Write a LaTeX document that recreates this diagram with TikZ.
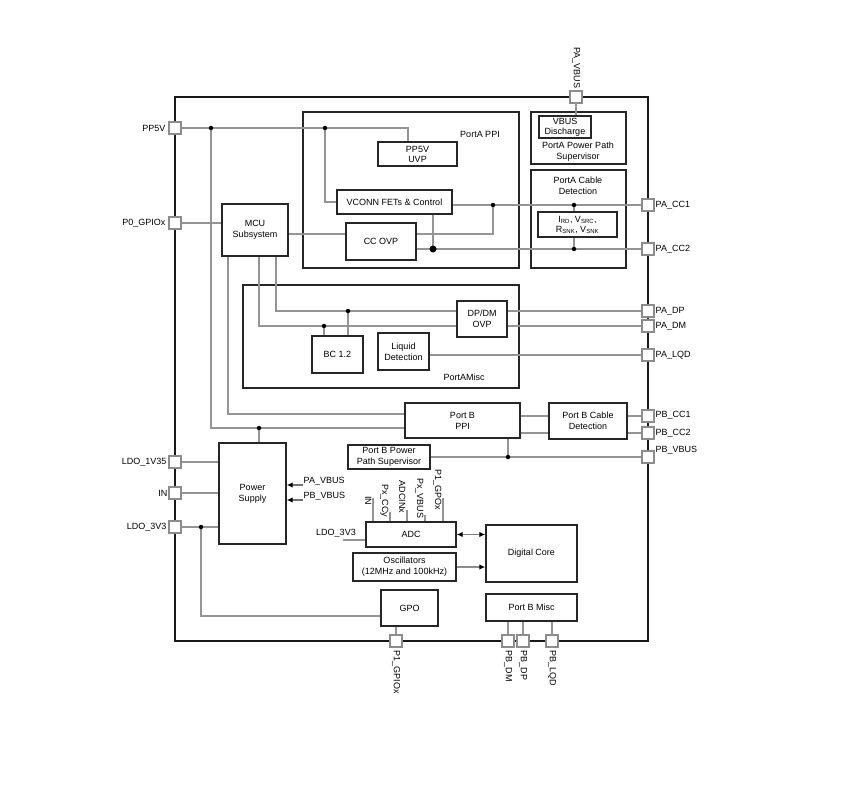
\documentclass[tikz,border=0pt]{standalone}
\usepackage{fontspec}
\setmainfont{Liberation Sans}
\usetikzlibrary{arrows.meta}
\begin{document}
\begin{tikzpicture}[x=1pt,y=-1pt,
  blk/.style={draw=black!85, line width=1.4pt, align=center, inner sep=1pt, font=\fontsize{9}{11}\selectfont},
  txt/.style={align=center, inner sep=0.5pt, font=\fontsize{9}{11}\selectfont},
  wire/.style={draw=black!42, line width=1.3pt},
  pin/.style={draw=black!45, fill=white, line width=1.1pt, minimum size=12pt, inner sep=0pt},
  dotn/.style={circle, fill=black, inner sep=0pt, minimum size=4.5pt},
  bigdot/.style={circle, fill=black, inner sep=0pt, minimum size=7pt},
  arr/.style={draw=black!55, line width=1.2pt, -{Latex[length=6pt,width=5.5pt,fill=black,color=black]}},
  darr/.style={draw=black!50, line width=1.2pt, {Latex[length=6pt,width=5.5pt,fill=black,color=black]}-{Latex[length=6pt,width=5.5pt,fill=black,color=black]}}
]
\useasboundingbox (0,0) rectangle (868,789);
% chip outline
\node[draw=black!90, line width=1.2pt, minimum width=473pt, minimum height=544pt, inner sep=0pt] (chip) at (411.5,369) {};

% blocks
\node[blk, minimum width=216pt, minimum height=156pt] (PAPPI) at (411,190) {};
\node[txt] (tPAPPI) at (480,134) {PortA PPI};
\node[blk, minimum width=79pt, minimum height=24pt, font=\fontsize{9}{10}\selectfont] (PPUVP) at (417.5,154) {PP5V\\UVP};
\node[blk, minimum width=115pt, minimum height=24pt] (VCONN) at (394.5,202) {VCONN FETs \& Control};
\node[blk, minimum width=70pt, minimum height=37pt] (CCOVP) at (381,241.5) {CC OVP};
\node[blk, minimum width=66pt, minimum height=52pt] (MCU) at (255,230) {MCU\\Subsystem};

\node[blk, minimum width=95pt, minimum height=52pt] (PAPPS) at (578.5,138) {};
\node[blk, minimum width=52pt, minimum height=22pt, font=\fontsize{9}{10}\selectfont] (VBUSD) at (565,127) {VBUS\\Discharge};
\node[txt] (tPAPPS) at (578,152) {PortA Power Path\\Supervisor};
\node[blk, minimum width=95pt, minimum height=98pt] (PACD) at (578.5,219) {};
\node[txt] (tPACD) at (578,185.5) {PortA Cable\\Detection};
\node[blk, minimum width=79pt, minimum height=25pt, font=\fontsize{9}{10}\selectfont] (IRD) at (577.5,224.5) {I\textsubscript{RD}, V\textsubscript{SRC},\\R\textsubscript{SNK}, V\textsubscript{SNK}};

\node[blk, minimum width=276pt, minimum height=103pt] (PAMisc) at (381,336.5) {};
\node[txt] (tPAMisc) at (464,377) {PortAMisc};
\node[blk, minimum width=50pt, minimum height=36pt] (DPDM) at (482,319) {DP/DM\\OVP};
\node[blk, minimum width=51pt, minimum height=37pt] (BC) at (337.5,354.5) {BC 1.2};
\node[blk, minimum width=51pt, minimum height=37pt] (LIQ) at (403.5,351.5) {Liquid\\Detection};

\node[blk, minimum width=115pt, minimum height=35pt] (PBPPI) at (462.5,420.5) {Port B\\PPI};
\node[blk, minimum width=78pt, minimum height=36pt] (PBCD) at (588,421) {Port B Cable\\Detection};
\node[blk, minimum width=82pt, minimum height=24pt] (PBPPS) at (389,457) {Port B Power\\Path Supervisor};
\node[blk, minimum width=67pt, minimum height=101pt] (PS) at (252.5,493.5) {Power\\Supply};
\node[blk, minimum width=90pt, minimum height=25pt] (ADC) at (411,534.5) {ADC};
\node[blk, minimum width=103pt, minimum height=28pt] (OSC) at (404.5,567) {Oscillators\\(12MHz and 100kHz)};
\node[blk, minimum width=57pt, minimum height=36pt] (GPO) at (409.5,608) {GPO};
\node[blk, minimum width=91pt, minimum height=57pt] (DIG) at (531.5,553.5) {Digital Core};
\node[blk, minimum width=91pt, minimum height=27pt] (PBMisc) at (531.5,607.5) {Port B Misc};

% pins (positions)
\coordinate (cPP5V) at (175,128);
\coordinate (cP0) at (175,223);
\coordinate (cLDO1) at (175,462);
\coordinate (cIN) at (175,493);
\coordinate (cLDO3) at (175,527);
\coordinate (cPAVBUS) at (576,97);
\coordinate (cPACC1) at (648,205);
\coordinate (cPACC2) at (648,249);
\coordinate (cPADP) at (648,311);
\coordinate (cPADM) at (648,326);
\coordinate (cPALQD) at (648,355);
\coordinate (cPBCC1) at (648,416);
\coordinate (cPBCC2) at (648,433);
\coordinate (cPBVBUS) at (648,457);
\coordinate (cP1) at (396,641);
\coordinate (cPBDM) at (508,641);
\coordinate (cPBDP) at (523,641);
\coordinate (cPBLQD) at (552,641);

% junctions and bends
\coordinate (d1) at (211,128);
\coordinate (d2) at (325,128);
\coordinate (d3) at (259,428);
\coordinate (d4) at (324,326);
\coordinate (d5) at (348,311);
\coordinate (d6) at (493,205);
\coordinate (d7) at (433,249);
\coordinate (d8) at (574,205);
\coordinate (d9) at (574,249);
\coordinate (d10) at (508,457);
\coordinate (d11) at (201,527);
\coordinate (y234) at (0,234);
\coordinate (y414) at (0,414);
\coordinate (y428) at (0,428);
\coordinate (y326) at (0,326);
\coordinate (y311) at (0,311);
\coordinate (y616) at (0,616);
\coordinate (x228) at (228,0);
\coordinate (x276) at (276,0);
\coordinate (x408) at (408,0);

% wires
\draw[wire] (cPP5V) -- (cPP5V -| x408) -- (x408 |- PPUVP.north);
\draw[wire] (d1) |- (PBPPI.west |- y428);
\draw[wire] (d3) -- (d3 |- PS.north);
\draw[wire] (d2) |- (VCONN.west);
\draw[wire] (cP0) -- (MCU.west |- cP0);
\draw[wire] (x228 |- MCU.south) -- (x228 |- y414) -- (PBPPI.west |- y414);
\draw[wire] (d3 |- MCU.south) -- (d3 |- y326) -- (DPDM.west |- y326);
\draw[wire] (x276 |- MCU.south) -- (x276 |- y311) -- (DPDM.west |- y311);
\draw[wire] (d4) -- (d4 |- BC.north);
\draw[wire] (d5) -- (d5 |- BC.north);
\draw[wire] (MCU.east |- y234) -- (CCOVP.west |- y234);
\draw[wire] (VCONN.east |- cPACC1) -- (cPACC1);
\draw[wire] (d6) |- (CCOVP.east |- y234);
\draw[wire] (CCOVP.east |- cPACC2) -- (cPACC2);
\draw[wire] (d7 |- VCONN.south) -- (d7);
\draw[wire] (d8) -- (d8 |- IRD.north);
\draw[wire] (d9) -- (d9 |- IRD.south);
\draw[wire] (cPAVBUS) -- (cPAVBUS |- VBUSD.north);
\draw[wire] (DPDM.east |- cPADP) -- (cPADP);
\draw[wire] (DPDM.east |- cPADM) -- (cPADM);
\draw[wire] (LIQ.east |- cPALQD) -- (cPALQD);
\draw[wire] (PBPPI.east |- cPBCC1) -- (PBCD.west |- cPBCC1);
\draw[wire] (PBPPI.east |- cPBCC2) -- (PBCD.west |- cPBCC2);
\draw[wire] (PBCD.east |- cPBCC1) -- (cPBCC1);
\draw[wire] (PBCD.east |- cPBCC2) -- (cPBCC2);
\draw[wire] (PBPPS.east |- cPBVBUS) -- (cPBVBUS);
\draw[wire] (d10 |- PBPPI.south) -- (d10);
\draw[wire] (cLDO1) -- (PS.west |- cLDO1);
\draw[wire] (cIN) -- (PS.west |- cIN);
\draw[wire] (cLDO3) -- (PS.west |- cLDO3);
\draw[wire] (d11) |- (GPO.west |- y616);
\draw[wire] (cP1 |- GPO.south) -- (cP1);
\draw[wire] (cPBDM |- PBMisc.south) -- (cPBDM);
\draw[wire] (cPBDP |- PBMisc.south) -- (cPBDP);
\draw[wire] (cPBLQD |- PBMisc.south) -- (cPBLQD);

% ADC inputs
\coordinate (iIN) at (373,498);
\coordinate (iCC) at (390,512);
\coordinate (iADC) at (407,510);
\coordinate (iVB) at (425,515);
\coordinate (iGP) at (443,498);
\foreach \c in {iIN,iCC,iADC,iVB,iGP} \draw[wire] (\c) -- (\c |- ADC.north);
\node[txt, rotate=-90, anchor=north east] (lIN) at (372,506) {IN};
\node[txt, rotate=-90, anchor=north east] (lCC) at (389,518) {Px\_CCy};
\node[txt, rotate=-90, anchor=north east] (lADC) at (406,514) {ADCINx};
\node[txt, rotate=-90, anchor=north east] (lVB) at (424,519) {Px\_VBUS};
\node[txt, rotate=-90, anchor=north east] (lGP) at (442,511) {P1\_GPOx};
\coordinate (lad) at (343,540);
\draw[wire] (lad) -- (lad -| ADC.west);
\node[txt, anchor=base] (lLDOa) at (336,535) {LDO\_3V3};

% arrows
\coordinate (aPA) at (303,485);
\coordinate (aPB) at (303,500);
\draw[arr] (aPA) -- (aPA -| PS.east);
\draw[arr] (aPB) -- (aPB -| PS.east);
\node[txt, anchor=base west] (lPA) at (303,483) {PA\_VBUS};
\node[txt, anchor=base west] (lPB) at (303,498) {PB\_VBUS};
\draw[darr] (ADC.east) -- (ADC.east -| DIG.west);
\draw[arr, draw=black!45] (OSC.east) -- (OSC.east -| DIG.west);

% dots
\foreach \d in {d1,d2,d3,d4,d5,d6,d8,d9,d10,d11} \node[dotn] at (\d) {};
\node[bigdot] at (d7) {};

% pin squares
\foreach \p in {cPP5V,cP0,cLDO1,cIN,cLDO3,cPAVBUS,cPACC1,cPACC2,cPADP,cPADM,cPALQD,cPBCC1,cPBCC2,cPBVBUS,cP1,cPBDM,cPBDP,cPBLQD}
  \node[pin] (n\p) at (\p) {};

% pin labels
\node[txt, anchor=east] (lPP5V) at (166,128) {PP5V};
\node[txt, anchor=east] (lP0) at (166,223) {P0\_GPIOx};
\node[txt, anchor=east] (lLDO1) at (167,462) {LDO\_1V35};
\node[txt, anchor=east] (lIN2) at (168,493) {IN};
\node[txt, anchor=east] (lLDO3) at (167,527) {LDO\_3V3};
\node[txt, rotate=-90, anchor=east] (lPAVBUS) at (576,89) {PA\_VBUS};
\node[txt, anchor=west] (lPACC1) at (655,205) {PA\_CC1};
\node[txt, anchor=west] (lPACC2) at (655,249) {PA\_CC2};
\node[txt, anchor=west] (lPADP) at (655,311) {PA\_DP};
\node[txt, anchor=west] (lPADM) at (655,326) {PA\_DM};
\node[txt, anchor=west] (lPALQD) at (655,355) {PA\_LQD};
\node[txt, anchor=west] (lPBCC1) at (655,415) {PB\_CC1};
\node[txt, anchor=west] (lPBCC2) at (655,433) {PB\_CC2};
\node[txt, anchor=west] (lPBVBUS) at (655,450) {PB\_VBUS};
\node[txt, rotate=-90, anchor=west] (lP1) at (396,650) {P1\_GPIOx};
\node[txt, rotate=-90, anchor=west] (lPBDM) at (508,650) {PB\_DM};
\node[txt, rotate=-90, anchor=west] (lPBDP) at (523,650) {PB\_DP};
\node[txt, rotate=-90, anchor=west] (lPBLQD) at (552,650) {PB\_LQD};
\end{tikzpicture}
\end{document}
